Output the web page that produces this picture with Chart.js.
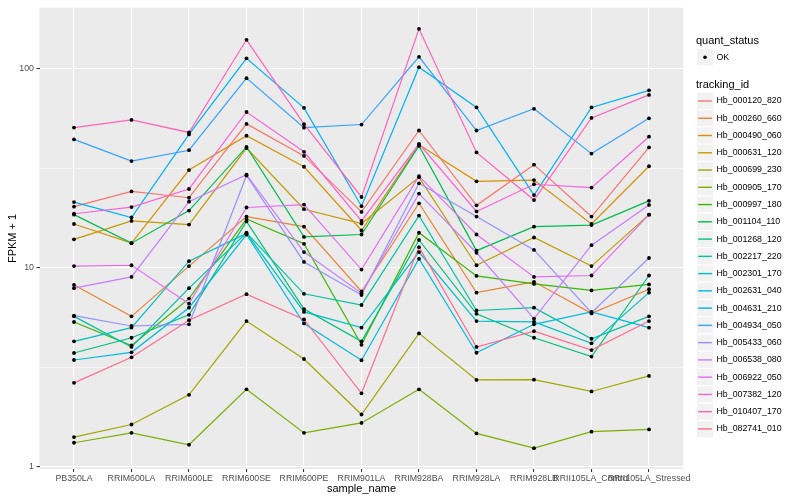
<!DOCTYPE html>
<html>
<head>
<meta charset="utf-8">
<script src="https://cdn.jsdelivr.net/npm/chart.js@4.4.0/dist/chart.umd.min.js"></script>
<style>
  html, body { margin: 0; padding: 0; background: #ffffff; }
  canvas { display: block; }
</style>
</head>
<body>
<canvas id="fpkm" width="800" height="500"></canvas>
<script>
var sampleNames = ["PB350LA", "RRIM600LA", "RRIM600LE", "RRIM600SE", "RRIM600PE", "RRIM901LA",
  "RRIM928BA", "RRIM928LA", "RRIM928LB", "RRII105LA_Control", "RRII105LA_Stressed"]

var trackingIds = ["Hb_000120_820", "Hb_000260_660", "Hb_000490_060", "Hb_000631_120", "Hb_000699_230",
  "Hb_000905_170", "Hb_000997_180", "Hb_001104_110", "Hb_001268_120", "Hb_002217_220",
  "Hb_002301_170", "Hb_002631_040", "Hb_004631_210", "Hb_004934_050", "Hb_005433_060",
  "Hb_006538_080", "Hb_006922_050", "Hb_007382_120", "Hb_010407_170", "Hb_082741_010"]

var quantStatus = ["OK"]

// FPKM + 1, one value per sample
var hb_000120_820 = [20.3, 24.2, 22.5, 52.9, 36.5, 19.1, 49, 20.6, 33, 18.1, 40.3]
var hb_000260_660 = [8.2, 5.7, 10.2, 18.1, 16.1, 7.6, 21.1, 7.5, 8.5, 5.9, 7.8]
var hb_000490_060 = [16.6, 13.3, 31, 46.1, 32.2, 15.4, 41.5, 27.2, 27.6, 16.6, 32.4]
var hb_000631_120 = [13.9, 17.2, 16.5, 40, 19.7, 16.7, 28.5, 10.3, 14.2, 10.2, 18.5]
var hb_000699_230 = [1.41, 1.63, 2.3, 5.4, 3.48, 1.83, 4.68, 2.73, 2.74, 2.39, 2.86]
var hb_000905_170 = [1.32, 1.48, 1.29, 2.45, 1.48, 1.66, 2.45, 1.47, 1.24, 1.5, 1.54]
var hb_000997_180 = [5.34, 4.07, 7.0, 17.6, 13.2, 4.1, 15, 9.1, 8.3, 7.7, 8.25]
var hb_001104_110 = [18.5, 13.3, 19.4, 40.5, 14.3, 14.7, 41, 12.2, 16.1, 16.4, 21.7]
var hb_001268_120 = [3.73, 4.45, 5.8, 17.1, 6.2, 4.27, 13.8, 5.87, 4.45, 3.58, 9.15]
var hb_002217_220 = [5.7, 4.0, 7.9, 15.0, 7.4, 6.5, 18.3, 6.1, 6.3, 4.4, 5.7]
var hb_002301_170 = [4.27, 5.0, 10.8, 14.9, 6.0, 5.0, 12.0, 5.4, 5.35, 4.17, 7.5]
var hb_002631_040 = [3.44, 3.76, 6.3, 14.7, 5.25, 3.43, 11.1, 3.74, 5.2, 6.0, 5.0]
var hb_004631_210 = [21.4, 17.9, 46.8, 113, 63.7, 20.4, 102, 64, 23.2, 64, 78]
var hb_004934_050 = [44.2, 34.4, 39, 89.8, 50.6, 52.5, 115, 49, 63, 37.5, 56.4]
var hb_005433_060 = [5.75, 5.1, 5.2, 29.1, 10.7, 7.3, 26.6, 18.1, 12.3, 5.95, 11.2]
var hb_006538_080 = [7.9, 9.0, 21.5, 29.4, 12.0, 7.45, 23.6, 11.9, 5.55, 13, 20.7]
var hb_006922_050 = [10.2, 10.3, 6.6, 20.1, 20.8, 9.8, 28.9, 14.7, 9.0, 9.15, 18.5]
var hb_007382_120 = [18.7, 20.2, 24.9, 60.7, 38.3, 17.2, 42, 19.2, 26.3, 25.3, 45.6]
var hb_010407_170 = [50.7, 55.4, 47.9, 140, 52.7, 22.7, 159, 38, 21.9, 56.7, 74]
var hb_082741_010 = [2.64, 3.55, 5.45, 7.37, 5.5, 2.34, 12.7, 4.0, 4.8, 3.86, 5.4]

var fpkm = [hb_000120_820, hb_000260_660, hb_000490_060, hb_000631_120, hb_000699_230,
  hb_000905_170, hb_000997_180, hb_001104_110, hb_001268_120, hb_002217_220,
  hb_002301_170, hb_002631_040, hb_004631_210, hb_004934_050, hb_005433_060,
  hb_006538_080, hb_006922_050, hb_007382_120, hb_010407_170, hb_082741_010]

var yTicks = [1, 10, 100]
var yMinorTicks = [3.162, 31.62]

// ggplot default hue palette for 20 levels
var palette = ["#F8766D", "#EA8331", "#D89000", "#C09B00", "#A3A500", "#7CAE00", "#39B600",
  "#00BB4E", "#00BF7D", "#00C1A3", "#00BFC4", "#00BAE0", "#00B0F6", "#35A2FF", "#9590FF",
  "#C77CFF", "#E76BF3", "#FA62DB", "#FF62BC", "#FF6C91"]

var FONT = '"Liberation Sans", Arial, sans-serif'

var panelBackground = {
  id: "panelBackground",
  beforeDraw: function(chart) {
    var a = chart.chartArea
    var ctx = chart.ctx
    ctx.save()
    ctx.fillStyle = "#EBEBEB"
    ctx.fillRect(a.left, a.top, a.right - a.left, a.bottom - a.top)
    ctx.restore()
  }
}

// two-part legend in the ggplot style, right of the panel
var ggLegend = {
  id: "ggLegend",
  afterDraw: function(chart) {
    var ctx = chart.ctx
    var x0 = 696.4
    var key = 17.28
    ctx.save()
    ctx.textBaseline = "middle"
    ctx.textAlign = "left"

    ctx.fillStyle = "#000000"
    ctx.font = "11px " + FONT
    ctx.fillText("quant_status", 696, 40.5)

    var cy = 57.2
    ctx.fillStyle = "#F2F2F2"
    ctx.fillRect(x0, cy - key / 2, key, key)
    ctx.strokeStyle = "#ffffff"
    ctx.lineWidth = 1
    ctx.strokeRect(x0, cy - key / 2, key, key)
    ctx.fillStyle = "#000000"
    ctx.beginPath()
    ctx.arc(x0 + key / 2, cy, 1.8, 0, Math.PI * 2)
    ctx.fill()
    ctx.font = "8.8px " + FONT
    ctx.fillText(quantStatus[0], 716.5, cy)

    ctx.font = "11px " + FONT
    ctx.fillText("tracking_id", 696, 85)

    for (var i = 0; i < trackingIds.length; i++) {
      var y = 101 + i * 17.26
      ctx.fillStyle = "#F2F2F2"
      ctx.fillRect(x0, y - key / 2, key, key)
      ctx.strokeStyle = "#ffffff"
      ctx.lineWidth = 1
      ctx.strokeRect(x0, y - key / 2, key, key)
      ctx.strokeStyle = palette[i]
      ctx.lineWidth = 1.4
      ctx.beginPath()
      ctx.moveTo(x0 + key * 0.1, y)
      ctx.lineTo(x0 + key * 0.9, y)
      ctx.stroke()
      ctx.fillStyle = "#000000"
      ctx.font = "8.8px " + FONT
      ctx.fillText(trackingIds[i], 716.5, y)
    }
    ctx.restore()
  }
}

var datasets = []
var allPoints = []
for (var s = 0; s < fpkm.length; s++) {
  var pts = []
  for (var i = 0; i < sampleNames.length; i++) {
    pts.push({ x: i, y: fpkm[s][i] })
    allPoints.push({ x: i, y: fpkm[s][i] })
  }
  datasets.push({
    label: trackingIds[s],
    data: pts,
    borderColor: palette[s],
    borderWidth: 1.2,
    pointRadius: 0,
    tension: 0,
    order: fpkm.length - s
  })
}
datasets.push({
  label: "quant_status",
  data: allPoints,
  showLine: false,
  pointRadius: 1.9,
  pointBackgroundColor: "#000000",
  pointBorderWidth: 0,
  order: -1
})

new Chart(document.getElementById("fpkm"), {
  type: "line",
  plugins: [panelBackground, ggLegend],
  data: { datasets: datasets },
  options: {
    responsive: false,
    animation: false,
    events: [],
    layout: { padding: { left: 0, right: 116.5, top: 5.3, bottom: 0 } },
    plugins: {
      legend: { display: false },
      tooltip: { enabled: false }
    },
    scales: {
      x: {
        type: "linear",
        min: -0.6,
        max: 10.6,
        afterBuildTicks: function(scale) {
          scale.ticks = sampleNames.map(function(n, i) { return { value: i } })
        },
        afterFit: function(scale) { scale.height = 30.9 },
        border: { display: false },
        grid: { color: "#ffffff", lineWidth: 1.07, tickColor: "#333333", tickLength: 3 },
        ticks: {
          autoSkip: false,
          maxRotation: 0,
          minRotation: 0,
          padding: 1.5,
          color: "#4D4D4D",
          font: { family: FONT, size: 8.8 },
          callback: function(v) { return sampleNames[v] }
        },
        title: {
          display: true,
          text: "sample_name",
          color: "#000000",
          font: { family: FONT, size: 11 },
          padding: { top: 0, bottom: 4.4 }
        }
      },
      y: {
        type: "logarithmic",
        min: 0.973,
        max: 202.8,
        afterBuildTicks: function(scale) {
          scale.ticks = yTicks.concat(yMinorTicks).sort(function(a, b) { return a - b })
            .map(function(v) { return { value: v } })
        },
        afterFit: function(scale) { scale.width = 39.5 },
        border: { display: false },
        grid: {
          color: "#ffffff",
          lineWidth: function(c) { return yTicks.indexOf(c.tick.value) >= 0 ? 1.07 : 0.53 },
          tickColor: function(c) { return yTicks.indexOf(c.tick.value) >= 0 ? "#333333" : "rgba(0,0,0,0)" },
          tickLength: 3
        },
        ticks: {
          autoSkip: false,
          padding: 2.5,
          color: "#4D4D4D",
          font: { family: FONT, size: 8.8 },
          callback: function(v) { return yTicks.indexOf(v) >= 0 ? String(v) : "" }
        },
        title: {
          display: true,
          text: "FPKM + 1",
          color: "#000000",
          font: { family: FONT, size: 11 },
          padding: { top: 6.4, bottom: 0 }
        }
      }
    }
  }
})
</script>
</body>
</html>
